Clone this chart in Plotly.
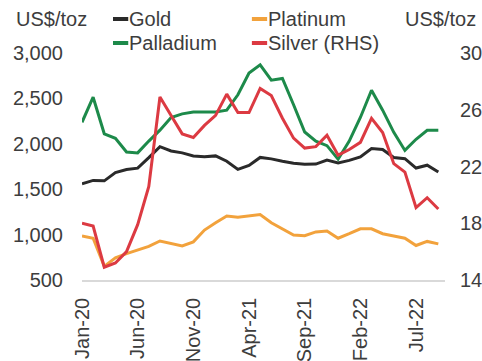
import plotly.graph_objects as go

# Monthly average prices, Jan-2020 to Sep-2022
months = ["Jan-20", "Feb-20", "Mar-20", "Apr-20", "May-20", "Jun-20", "Jul-20", "Aug-20",
          "Sep-20", "Oct-20", "Nov-20", "Dec-20", "Jan-21", "Feb-21", "Mar-21", "Apr-21",
          "May-21", "Jun-21", "Jul-21", "Aug-21", "Sep-21", "Oct-21", "Nov-21", "Dec-21",
          "Jan-22", "Feb-22", "Mar-22", "Apr-22", "May-22", "Jun-22", "Jul-22", "Aug-22",
          "Sep-22"]

gold = [1560, 1597, 1592, 1683, 1716, 1732, 1847, 1968, 1921, 1900, 1866, 1858,
        1867, 1808, 1718, 1761, 1850, 1834, 1807, 1785, 1775, 1777, 1821, 1790,
        1817, 1856, 1948, 1937, 1849, 1836, 1733, 1764, 1690]

palladium = [2237, 2513, 2110, 2060, 1910, 1900, 2030, 2150, 2290, 2330, 2350, 2350,
             2350, 2370, 2540, 2780, 2870, 2700, 2720, 2430, 2130, 2030, 1980, 1830,
             2030, 2290, 2590, 2370, 2126, 1927, 2050, 2148, 2148]

platinum = [985, 960, 650, 745, 790, 830, 870, 930, 900, 876, 920, 1050,
            1130, 1205, 1190, 1205, 1220, 1130, 1060, 995, 987, 1030, 1040, 960,
            1010, 1064, 1064, 1010, 985, 960, 880, 925, 898]

silver = [18.0, 17.8, 14.9, 15.2, 16.0, 17.9, 20.6, 26.9, 25.6, 24.3, 24.05, 24.9,
          25.6, 27.1, 25.8, 25.8, 27.5, 27.0, 25.4, 24.0, 23.3, 23.4, 24.2, 22.8,
          23.2, 23.7, 25.4, 24.4, 22.2, 21.6, 19.1, 19.8, 19.0]

tick_months = ["Jan-20", "Jun-20", "Nov-20", "Apr-21", "Sep-21", "Feb-22", "Jul-22"]

series_names = ["Gold", "Platinum", "Palladium", "Silver (RHS)"]
series_colors = ["#2a2a2a", "#f2a23c", "#1d8a4a", "#dc3a42"]

FONT = "Liberation Sans, Arial, sans-serif"
TXT = "#3d3d3d"

fig = go.Figure()
for name, vals, color in zip(series_names, [gold, platinum, palladium, silver], series_colors):
    fig.add_trace(go.Scatter(x=months, y=vals, name=name, mode="lines",
                             line=dict(color=color, width=3),
                             yaxis="y2" if name.startswith("Silver") else "y"))

# Two-column legend drawn in paper space above the plot
legend_cols = [0.0854, 0.468]      # left end of each key line
legend_rows = [1.1498, 1.044]      # row centres
key_len = 0.042
annotations = []
shapes = []
for i, (name, color) in enumerate(zip(series_names, series_colors)):
    x0 = legend_cols[i % 2]
    y0 = legend_rows[i // 2]
    shapes.append(dict(type="line", xref="paper", yref="paper",
                       x0=x0, x1=x0 + key_len, y0=y0, y1=y0,
                       line=dict(color=color, width=4)))
    annotations.append(dict(text=name, xref="paper", yref="paper",
                            x=x0 + key_len - 0.004, y=y0, xanchor="left", yanchor="middle",
                            showarrow=False, font=dict(family=FONT, size=20, color=TXT)))

annotations += [
    dict(text="US$/toz", xref="paper", yref="paper", x=-0.083, y=1.1498,
         xanchor="center", yanchor="middle", showarrow=False,
         font=dict(family=FONT, size=20, color=TXT)),
    dict(text="US$/toz", xref="paper", yref="paper", x=0.884, y=1.1498,
         xanchor="left", yanchor="middle", showarrow=False,
         font=dict(family=FONT, size=20, color=TXT)),
]

fig.update_layout(
    width=482, height=361,
    margin=dict(l=82, r=37, t=53, b=81, autoexpand=False),
    paper_bgcolor="white", plot_bgcolor="white",
    font=dict(family=FONT, size=20, color=TXT),
    showlegend=False,
    xaxis=dict(type="category", range=[0, 32.6], tickmode="array",
               tickvals=tick_months, ticktext=tick_months, tickangle=-90,
               showgrid=False, zeroline=False, ticks="",
               showline=True, linecolor="#d9d9d9", linewidth=1.5,
               ticklabelstandoff=8, automargin=False,
               tickfont=dict(family=FONT, size=20, color=TXT)),
    yaxis=dict(range=[500, 3000], dtick=500, tickformat=",d",
               showgrid=False, zeroline=False, ticks="", showline=False,
               ticklabelstandoff=18, automargin=False,
               tickfont=dict(family=FONT, size=20, color=TXT)),
    yaxis2=dict(range=[14, 30], tick0=14, dtick=4, overlaying="y", side="right",
                showgrid=False, zeroline=False, ticks="", showline=False,
                ticklabelstandoff=14, automargin=False,
                tickfont=dict(family=FONT, size=20, color=TXT)),
    shapes=shapes,
    annotations=annotations,
)

fig.write_html("out.html")
